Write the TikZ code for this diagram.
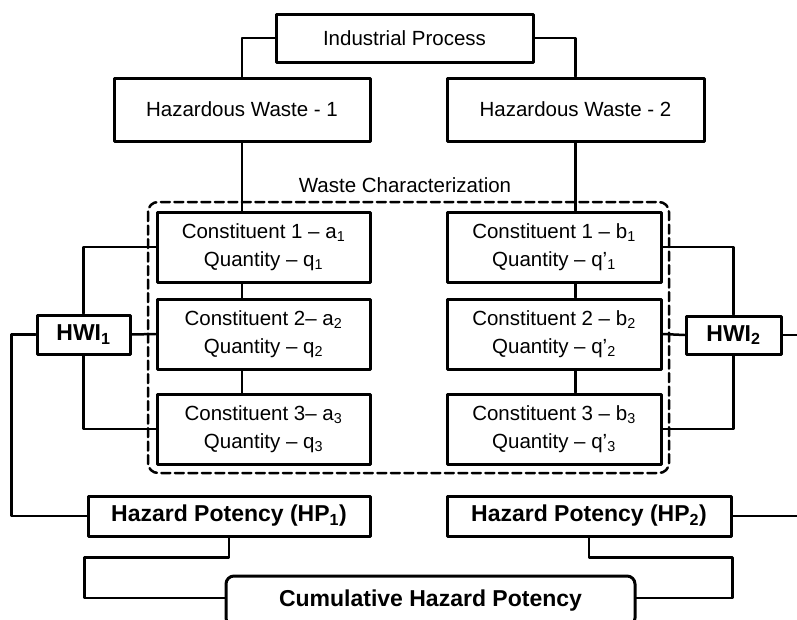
\documentclass[tikz,border=0pt]{standalone}
\usepackage{fontspec}
\setmainfont{Liberation Sans}

\begin{document}
\begin{tikzpicture}[x=1pt,y=-1pt,line cap=round,line join=round,box/.style={draw,line width=3pt,fill=white,inner sep=0pt,align=center,font=\fontsize{20.5}{28}\selectfont},bbox/.style={box,font=\fontsize{23}{28}\selectfont\bfseries},link/.style={line width=2.5pt}]
\useasboundingbox (0,0) rectangle (797,619);
\coordinate (e) at (797,0);
\node[box,minimum width=257,minimum height=48] (ip) at (404.5,38) {Industrial Process};
\node[box,minimum width=256,minimum height=63] (w1) at (242,109.5) {Hazardous Waste - 1};
\node[box,minimum width=257,minimum height=63] (w2) at (575.5,109.5) {Hazardous Waste - 2};
\node[font=\fontsize{20.5}{24}\selectfont] (wc) at (405,185) {Waste Characterization};
\draw[line width=2.5pt,dash pattern=on 9pt off 4.5pt,rounded corners=10pt] (148,202) rectangle (669,473);
\node[box,minimum width=213,minimum height=70] (a1) at (263.5,247) {Constituent 1 -- a\textsubscript{1}\\Quantity -- q\textsubscript{1}};
\node[box,minimum width=213,minimum height=70] (a2) at (263.5,334) {Constituent 2-- a\textsubscript{2}\\Quantity -- q\textsubscript{2}};
\node[box,minimum width=213,minimum height=70] (a3) at (263.5,429) {Constituent 3-- a\textsubscript{3}\\Quantity -- q\textsubscript{3}};
\node[box,minimum width=214,minimum height=70] (b1) at (554,247) {Constituent 1 -- b\textsubscript{1}\\Quantity -- q'\textsubscript{1}};
\node[box,minimum width=214,minimum height=70] (b2) at (554,334) {Constituent 2 -- b\textsubscript{2}\\Quantity -- q'\textsubscript{2}};
\node[box,minimum width=214,minimum height=70] (b3) at (554,429) {Constituent 3 -- b\textsubscript{3}\\Quantity -- q'\textsubscript{3}};
\node[bbox,minimum width=93,minimum height=39] (h1) at (83.5,334.5) {HWI\textsubscript{1}};
\node[bbox,minimum width=95,minimum height=38] (h2) at (733.5,335) {HWI\textsubscript{2}};
\node[bbox,minimum width=282,minimum height=40] (p1) at (229,516) {Hazard Potency (HP\textsubscript{1})};
\node[bbox,minimum width=284,minimum height=40] (p2) at (589,516) {Hazard Potency (HP\textsubscript{2})};
\node[bbox,rounded corners=8pt,minimum width=409,minimum height=50] (chp) at (430.5,601) {Cumulative Hazard Potency};
\draw[link] (ip.west) -| (w1.north);
\draw[link] (ip.east) -| (w2.north);
\draw[link] (w1.south) -- (w1.south |- a1.north);
\draw[link] (w1 |- a1.south) -- (w1 |- a2.north);
\draw[link] (w1 |- a2.south) -- (w1 |- a3.north);
\draw[link] (w2.south) -- (w2.south |- b1.north);
\draw[link] (w2 |- b1.south) -- (w2 |- b2.north);
\draw[link] (w2 |- b2.south) -- (w2 |- b3.north);
\draw[link] (h1.north) |- (a1.west);
\draw[link] (h1.east) -- (a2.west);
\draw[link] (h1.south) |- (a3.west);
\draw[link] (h2.north) |- (b1.east);
\draw[link] (h2.west) -- (b2.east);
\draw[link] (h2.south) |- (b3.east);
\draw[link] (h2.east) -- (h2.east -| e);
\draw[link] (h1.west) -- ++(-24,0) |- (p1.west);
\draw[link] (p2.east) -- (p2.east -| e);
\draw[link] (p1.south) -- ++(0,20) -| ([xshift=-140pt,yshift=3pt]chp.west) -- ([yshift=3pt]chp.west);
\draw[link] (p2.south) -- ++(0,20) -| ([xshift=96pt,yshift=3pt]chp.east) -- ([yshift=3pt]chp.east);
\end{tikzpicture}
\end{document}
